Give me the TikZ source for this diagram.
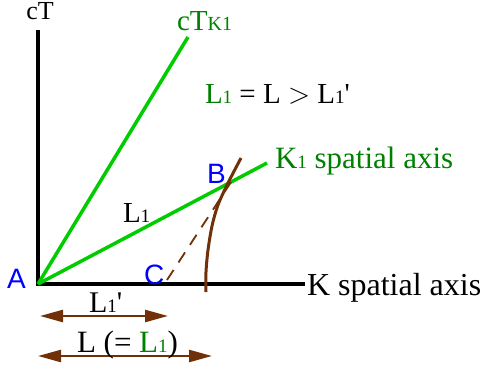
\documentclass[tikz,border=0pt]{standalone}
\usepackage{fontspec}
\setmainfont{Liberation Serif}
\newfontfamily\arialfont{Liberation Sans}
\usetikzlibrary{arrows.meta}
\definecolor{lgreen}{RGB}{0,204,0}
\definecolor{dgreen}{RGB}{0,128,0}
\definecolor{brn}{RGB}{112,48,8}
\definecolor{blu}{RGB}{0,0,255}
\newcommand\subone{{\fontsize{19}{19}\selectfont 1}}
\newcommand\fsz[1]{\fontsize{#1}{#1}\selectfont}
\begin{document}
\begin{tikzpicture}[x=1pt,y=-1pt,
  lbl/.style={inner sep=0pt, outer sep=0pt, anchor=base west, font=\fsz{31}},
  ptlbl/.style={inner sep=0pt, outer sep=0pt, anchor=base west, text=blu, font=\arialfont\fsz{28}},
  axis/.style={line width=4pt, black},
  gline/.style={line width=3.5pt, lgreen},
  bline/.style={line width=3pt, brn},
  measure/.style={line width=2.5pt, brn, {Triangle[length=23pt,width=12pt]}-{Triangle[length=23pt,width=12pt]}}
]
\useasboundingbox (0,0) rectangle (482,370);
% points
\coordinate (A) at (38,284);
\coordinate (Ttop) at (38,30);
\coordinate (Kend) at (305,284);
\coordinate (Gtop) at (188,37);
\coordinate (Gend) at (267,163);
\coordinate (C) at (167,280);
\coordinate (B) at (233,179);
% axes
\draw[axis] (Ttop) -- (A) -- (Kend);
% green lines
\draw[gline] (A) -- (Gtop);
\draw[gline] (A) -- (Gend);
% dashed line
\draw[brn, line width=1.8pt, dash pattern=on 12pt off 9pt] (C) -- (B);
% curve
\draw[bline] plot[smooth] coordinates {(241,158) (228,183) (218,205) (212,226) (208,250) (206,272) (206,292)};
% measurement arrows
\coordinate (m1a) at (40,316);
\coordinate (m1b) at (168,316);
\coordinate (m2a) at (38,356);
\coordinate (m2b) at (212,356);
\draw[measure] (m1a) -- (m1b);
\draw[measure] (m2a) -- (m2b);
% labels
\node[lbl, anchor=base, font=\fsz{26}] (cT) at (40,19) {cT};
\node[lbl, text=dgreen, font=\fsz{29}] (cTK) at (177,30) {cT{\fsz{20}K1}};
\node[lbl, font=\fsz{29}] (eq) at (205,103) {\textcolor{dgreen}{L\subone} = L {\fontfamily{lmr}\selectfont\char`>} L\subone\textquotesingle};
\node[lbl, text=dgreen] (K1ax) at (275,168) {K\subone{} spatial axis};
\node[lbl, font=\fsz{32}] (Kax) at (307,295) {K spatial axis};
\node[lbl, font=\fsz{29}] (L1) at (123,222) {L\subone};
\node[lbl, font=\fsz{30}] (L1p) at (89,312) {L\subone\textquotesingle};
\node[lbl] (L) at (77,352) {L (= \textcolor{dgreen}{L\subone})};
\node[ptlbl] (Alab) at (7,288) {A};
\node[ptlbl] (Blab) at (207,183) {B};
\node[ptlbl] (Clab) at (144,284) {C};
\end{tikzpicture}
\end{document}
